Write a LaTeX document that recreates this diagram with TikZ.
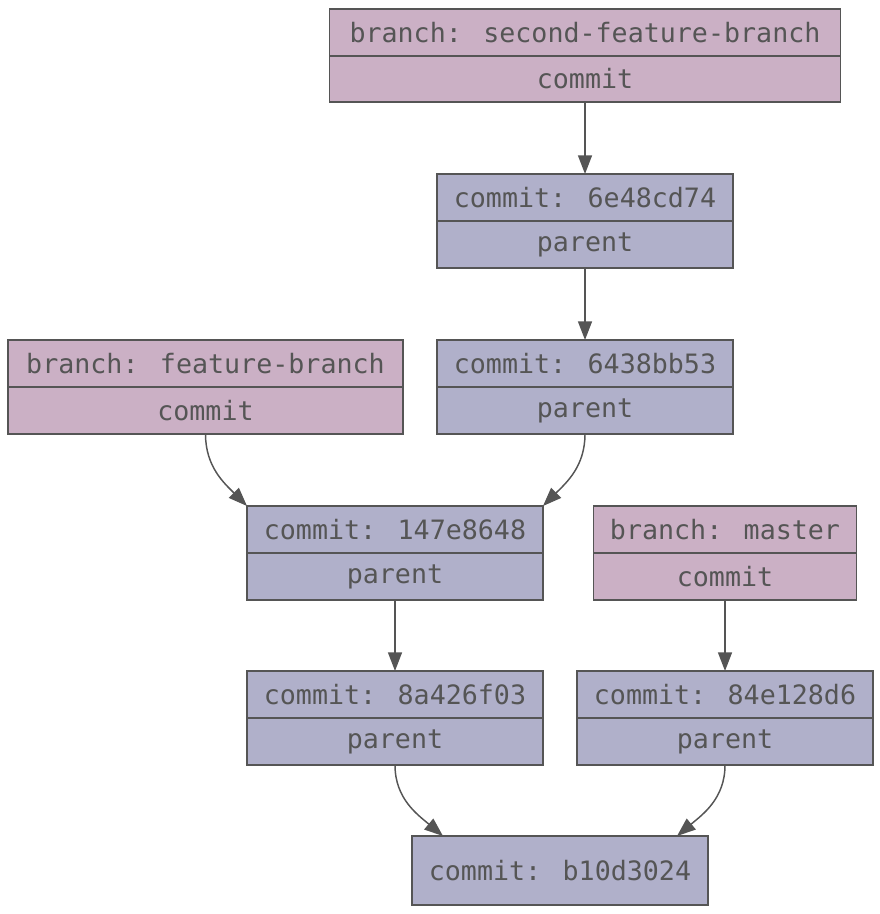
\documentclass[tikz,border=0pt]{standalone}
\usepackage{fontspec}
\newfontfamily\codefont{DejaVu Sans Mono}
\usetikzlibrary{arrows.meta}
\definecolor{pinkfill}{RGB}{203,176,197}
\definecolor{bluefill}{RGB}{176,176,202}
\definecolor{ink}{RGB}{85,85,85}
\tikzset{
  cell/.style={draw=ink, line width=0.9pt, text=ink, inner sep=0pt, outer sep=0pt,
    font=\codefont\fontsize{20pt}{24pt}\selectfont, anchor=center},
  pcell/.style={cell, fill=pinkfill},
  bcell/.style={cell, fill=bluefill},
  link/.style={draw=ink, line width=1.1pt, -{Triangle[length=14pt,width=10.5pt]}}
}
\begin{document}
\begin{tikzpicture}[x=0.75pt,y=-0.75pt]
\useasboundingbox (0,0) rectangle (880,914);
% branch: second-feature-branch
\node[pcell, minimum width={511*0.75pt}, minimum height={47*0.75pt}] (sfbA) at (585,32.5) {branch: second-feature-branch};
\node[pcell, minimum width={511*0.75pt}, minimum height={46*0.75pt}] (sfbB) at (585,79) {commit};
% commit 6e48cd74
\node[bcell, minimum width={296*0.75pt}, minimum height={47*0.75pt}] (c6eA) at (585,197.5) {commit: 6e48cd74};
\node[bcell, minimum width={296*0.75pt}, minimum height={47*0.75pt}] (c6eB) at (585,244.5) {parent};
% branch: feature-branch
\node[pcell, minimum width={395*0.75pt}, minimum height={47*0.75pt}] (fbA) at (205.5,363.5) {branch: feature-branch};
\node[pcell, minimum width={395*0.75pt}, minimum height={47*0.75pt}] (fbB) at (205.5,410.5) {commit};
% commit 6438bb53
\node[bcell, minimum width={296*0.75pt}, minimum height={47*0.75pt}] (c64A) at (585,363.5) {commit: 6438bb53};
\node[bcell, minimum width={296*0.75pt}, minimum height={47*0.75pt}] (c64B) at (585,410.5) {parent};
% commit 147e8648
\node[bcell, minimum width={296*0.75pt}, minimum height={47*0.75pt}] (c14A) at (395,529.5) {commit: 147e8648};
\node[bcell, minimum width={296*0.75pt}, minimum height={47*0.75pt}] (c14B) at (395,576.5) {parent};
% branch: master
\node[pcell, minimum width={263*0.75pt}, minimum height={47*0.75pt}] (msA) at (725,529.5) {branch: master};
\node[pcell, minimum width={263*0.75pt}, minimum height={47*0.75pt}] (msB) at (725,576.5) {commit};
% commit 8a426f03
\node[bcell, minimum width={296*0.75pt}, minimum height={47*0.75pt}] (c8aA) at (395,694.5) {commit: 8a426f03};
\node[bcell, minimum width={296*0.75pt}, minimum height={47*0.75pt}] (c8aB) at (395,741.5) {parent};
% commit 84e128d6
\node[bcell, minimum width={296*0.75pt}, minimum height={47*0.75pt}] (c84A) at (725,694.5) {commit: 84e128d6};
\node[bcell, minimum width={296*0.75pt}, minimum height={47*0.75pt}] (c84B) at (725,741.5) {parent};
% commit b10d3024
\node[bcell, minimum width={296*0.75pt}, minimum height={69*0.75pt}] (b10) at (560,870.5) {commit: b10d3024};
\coordinate (b10L) at ([xshift={31*0.75pt}]b10.north west);
\coordinate (b10R) at ([xshift={-31*0.75pt}]b10.north east);
% connectors
\draw[link] (sfbB.south) -- (c6eA.north);
\draw[link] (c6eB.south) -- (c64A.north);
\draw[link] (fbB.south) to[out=-90,in=135] (c14A.north west);
\draw[link] (c64B.south) to[out=-90,in=45] (c14A.north east);
\draw[link] (c14B.south) -- (c8aA.north);
\draw[link] (msB.south) -- (c84A.north);
\draw[link] (c8aB.south) to[out=-90,in=140] (b10L);
\draw[link] (c84B.south) to[out=-90,in=40] (b10R);
\end{tikzpicture}
\end{document}
